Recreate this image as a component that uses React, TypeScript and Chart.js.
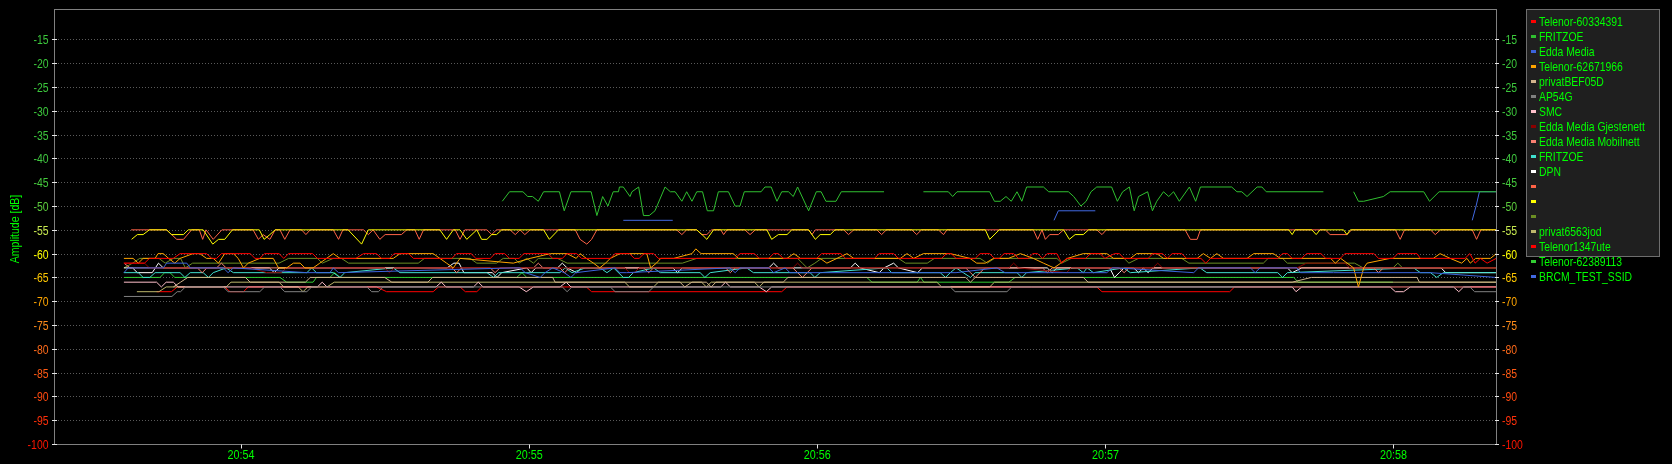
import React, { useEffect, useRef } from 'react';
import { Chart, registerables } from 'chart.js';

Chart.register(...registerables);

const FONT = '"Liberation Sans", Arial, "DejaVu Sans", sans-serif';

// ---- axes ----
const xTickSeconds = [60, 120, 180, 240, 300]; // seconds after 20:53:00
const xTickLabels = ['20:54', '20:55', '20:56', '20:57', '20:58'];
const yTickValues = [-15, -20, -25, -30, -35, -40, -45, -50, -55, -60, -65, -70, -75, -80, -85, -90, -95, -100];
const yTickColors = ['#3cc83c', '#3cc83c', '#3cc83c', '#3cc83c', '#3cc83c', '#40c840', '#44ca3c', '#5ccc3c', '#c8ea50', '#ffff00', '#ffc800', '#ffa500', '#ff8c1a', '#ff6a1a', '#ff5a14', '#ff4a10', '#ff300a', '#ff1400'];
const yTitle = 'Amplitude [dB]';

// ---- series (seconds after 20:53:00, dB) ----
type P = [number, number | null];

const telenor60334391: P[] = [[35.7,-62],[40,-62],[41,-61],[46,-61],[47.4,-60],[52.9,-60],[54,-61],[55,-61],[56,-60],[62,-60],[63,-61],[64,-61],[65,-60],[68,-60],[69,-61],[70,-60],[75,-60],[76,-61],[84,-61],[85.6,-60],[88.3,-60],[89.3,-61],[91,-61],[92,-60],[95,-60],[96,-61],[104,-61],[105,-60],[108,-60],[109,-61],[112,-61],[113,-60],[115,-60],[116,-61],[118,-61],[119,-60],[124,-60],[125,-61],[127,-61],[128,-60],[130,-60],[131,-61],[137,-61],[138,-60],[141,-60],[142,-61],[143,-61],[144,-60],[146,-60],[147,-61],[163,-61],[164,-60],[167,-60],[168,-61],[170,-61],[171,-60],[172,-60],[173,-61],[180,-61],[181,-60],[185,-60],[186,-61],[192,-61],[193,-60],[196,-60],[197,-61],[206,-61],[207,-60],[208,-60],[209,-61],[213,-61],[214,-60],[216,-60],[217,-61],[218,-61],[219,-60],[221,-60],[222,-61],[224,-61],[225,-60],[226,-60],[227,-61],[228,-60],[230,-60],[231,-62],[232,-61],[236,-61],[237,-60],[239,-60],[240,-61],[242,-60],[243,-60],[244,-61],[249,-61],[250,-60],[252,-60],[253,-61],[254,-60],[256,-60],[257,-61],[260,-61],[261,-62],[262,-61],[276,-61],[277,-60],[278,-60],[279,-61],[281,-61],[282,-60],[285,-60],[286,-61],[289,-61],[290,-60],[296,-60],[297,-61],[300,-61],[301,-60],[305,-60],[305.7,-61],[315,-61],[316,-60],[317.1,-62],[318.2,-61],[319.6,-62],[321.5,-61]];

const fritzoeTop: P[] = [[114.5,-49],[116,-47],[118.8,-47],[119.8,-48],[120.8,-48],[122,-49],[123.1,-47],[126.4,-47],[127.4,-51],[128.8,-47],[133,-47],[134.2,-52],[135.4,-48],[136.5,-50],[137.6,-47],[138.7,-47],[138.9,-46],[139.7,-46],[141.1,-48],[141.5,-47],[142.9,-46],[143.9,-52],[145.1,-52],[146.3,-51],[148.4,-46],[149.5,-47],[150.5,-47],[151.9,-49],[152.9,-47],[154,-49],[155,-47],[156.2,-47],[157.2,-51],[158.5,-51],[159.5,-47],[161.6,-47],[163,-50],[164,-50],[164.9,-47],[168.4,-47],[169.2,-46],[170.5,-46],[171.7,-49],[172.7,-47],[174.1,-47],[175.1,-48],[176,-46],[178.3,-51],[179.9,-47],[180.9,-47],[181.9,-49],[184,-49],[185.1,-47],[194,-47],[194.5,null],[202.2,-47],[207.4,-47],[208.3,-48],[209.2,-47],[216,-47],[217,-49],[218.2,-49],[219.4,-48],[220.5,-49],[221.7,-47],[222.7,-49],[223.7,-46],[227.2,-46],[228.3,-47],[232.4,-47],[233.5,-48],[235,-50],[236.1,-49],[237.1,-47],[238.3,-46],[241.4,-46],[242.6,-49],[243.7,-47],[245.1,-46],[246.1,-51],[247,-48],[248.9,-47],[249.9,-51],[250.8,-49],[252.2,-47],[253.3,-48],[254.3,-47],[255.5,-49],[257.6,-46],[258.9,-49],[259.9,-46],[266.4,-46],[267.5,-47],[268.5,-47],[269.6,-48],[271.7,-46],[272.7,-46],[273.6,-47],[285.5,-47],[286,null],[291.8,-47],[292.8,-49],[293.9,-49],[298,-48],[299.4,-47],[306.4,-47],[307.6,-49],[309.6,-47],[321.5,-47]];

const eddaMedia: P[] = [[35.7,-64],[36.6,-63],[43.9,-63],[44.6,-62],[48.8,-62],[49.5,-63],[56.4,-63],[57.4,-64],[58.5,-63],[73.8,-64],[78.6,-64],[79.3,-63],[80.4,-64],[116.8,-63],[118.2,-63],[119.3,-64],[122.4,-65],[123.4,-64],[125,-63],[127.4,-64],[128.8,-65],[129.8,-64],[138,-63],[139,-64],[140.4,-64],[161.9,-63],[163,-64],[164,-63],[170,-63],[171,-64],[173.4,-63],[174.4,-64],[204.3,-64],[209,-64],[217.5,-63],[219.2,-64],[240.4,-64],[241.5,-63],[242.5,-63],[258.5,-64],[259.5,-63],[270.3,-63],[271.3,-64],[272.3,-63],[280,-63],[280.7,-64],[287.6,-64],[307.8,-64],[321.5,-65]];

const telenor62671966: P[] = [[35.7,-61],[37.6,-61],[38.7,-62],[39.7,-61],[42.2,-61],[42.8,-60],[43.9,-60],[45,-61],[46.3,-62],[47.4,-61],[50.1,-60],[51.5,-60],[52.9,-61],[54.3,-61],[55.4,-62],[56.7,-60],[58.5,-60],[59.5,-61],[60.6,-63],[61.6,-62],[64,-61],[66.8,-61],[67.9,-63],[69.6,-63],[71,-62],[72.4,-62],[73.4,-63],[75.1,-63],[76.5,-62],[77.9,-61],[79.3,-60],[80.7,-61],[91.8,-61],[93.2,-60],[100.1,-60],[101.5,-61],[102.9,-62],[104.3,-63],[105.7,-61],[116.8,-62],[120.3,-61],[124.5,-60],[128,-60],[129.9,-61],[130.7,-60],[132,-61],[133.5,-62],[134.8,-63],[136,-62],[137,-61],[139,-60],[144.6,-60],[145.4,-63],[146.6,-62],[147.5,-61],[150.2,-61],[154,-60],[154.8,-59],[155.9,-60],[162.6,-60],[163.7,-61],[173.8,-61],[175.2,-60],[176.6,-61],[180.7,-61],[182.1,-62],[186.3,-60],[187.7,-61],[197.4,-61],[198.8,-60],[200.2,-61],[202.2,-60],[207.8,-60],[211.9,-61],[213.3,-62],[215.1,-62],[216.8,-61],[219.9,-61],[222.4,-60],[225.1,-61],[227.2,-62],[229.4,-63],[230.8,-62],[232.2,-61],[235.5,-60],[240.4,-60],[241.8,-61],[245.3,-61],[246.6,-60],[250.8,-60],[252.2,-61],[259.2,-61],[260.5,-60],[262,-61],[263.3,-60],[264.7,-61],[269.6,-61],[271,-60],[275.1,-60],[276.5,-61],[287,-61],[288,-62],[289.1,-61],[291.8,-63],[292.8,-67],[293.9,-63],[294.6,-62],[299.4,-61],[308.4,-61],[309.8,-60],[311.9,-61],[314.3,-62],[315.4,-61],[316.1,-62],[317.2,-61],[320.3,-61],[321.5,-60]];

const privatBEF05D: P[] = [[46,-67],[47.5,-66],[49,-65],[61,-65],[62,-66],[73.5,-66],[74.5,-65],[90,-65],[91.5,-66],[99,-66],[100,-65],[125,-65],[125.5,-66],[151.5,-66],[152.5,-67],[154,-66],[157,-66],[158,-67],[159,-66],[173,-66],[174,-65],[211,-65],[212,-66],[213,-65],[235.5,-65],[236.5,-66],[279,-66],[283,-65],[305,-65],[305.5,-66],[321.5,-66]];

const ap54g: P[] = [[35.7,-69],[45.7,-69],[46.8,-68],[47.5,-68],[48.5,-67],[56.4,-67],[57.4,-68],[64,-68],[65,-67],[68.2,-67],[69.2,-68],[73.8,-68],[74.8,-67],[86.3,-67],[87.3,-68],[88.7,-68],[89.7,-67],[127,-67],[128,-68],[129,-67],[137,-67],[138,-68],[145,-68],[146,-67],[207.8,-67],[208.8,-68],[219.6,-68],[220.6,-67],[316,-67],[317,-68],[321.5,-68]];

const smc: P[] = [[35.7,-66],[42.5,-66],[43.5,-67],[44.5,-66],[46,-66],[47,-67],[76,-67],[77,-66],[78,-67],[100.7,-67],[101.8,-66],[102.8,-67],[108.5,-67],[109.5,-66],[110.5,-67],[118,-67],[119.5,-68],[121,-67],[126.5,-67],[127.8,-66],[128.8,-67],[160,-67],[161,-66],[162,-67],[168,-67],[169.5,-68],[170.6,-67],[279,-67],[279.8,-68],[281,-67],[299.4,-67],[300.5,-68],[302.2,-68],[303.6,-67],[312.6,-67],[313.7,-68],[314.7,-67],[321.5,-67]];

const eddaGjestenett: P[] = [[35.7,-62],[40,-62],[41,-63],[62,-63],[65.5,-64],[68.5,-64],[69.5,-63],[90,-63],[91,-64],[92,-63],[140,-63],[141,-64],[142,-64],[143,-63],[175,-63],[176,-62],[177,-63],[220,-63],[221,-62],[222,-63],[232,-64],[233,-63],[250,-63],[251,-62],[252,-63],[280,-63],[282,-62],[290,-62],[291,-63],[321.5,-63]];

const eddaMobilnett: P[] = [[35.7,-62],[37,-63],[51,-63],[52,-64],[53,-63],[55,-63],[56,-62],[57,-63],[104,-63],[105,-64],[106,-63],[112,-63],[113,-64],[114,-63],[121,-63],[122,-62],[123,-63],[126.5,-63],[127.5,-64],[128.5,-63],[144,-63],[145,-64],[146,-63],[161,-63],[162,-64],[163,-63],[175,-63],[176,-64],[177,-65],[178,-64],[179,-63],[211,-63],[212,-64],[213,-65],[214,-64],[215,-63],[227,-63],[228,-64],[229,-63],[243,-63],[244,-64],[245,-63],[296,-63],[297,-64],[298,-63],[321.5,-63]];

const fritzoeCyan: P[] = [[35.7,-64],[38.7,-64],[39.7,-65],[41.1,-65],[42.2,-64],[47.4,-64],[48.4,-65],[49.5,-64],[52.2,-64],[53.3,-65],[54.3,-64],[57,-63],[58.5,-64],[73.8,-64],[74.8,-63],[75.8,-64],[79.3,-64],[80.7,-65],[81.7,-64],[91.8,-63],[93.2,-64],[111.3,-64],[112.7,-65],[113.7,-64],[126.5,-64],[127.6,-63],[129,-64],[131.8,-63],[134.9,-63],[136.3,-64],[137.7,-63],[139.7,-65],[140.8,-65],[141.8,-64],[146,-63],[147.4,-64],[155.7,-64],[156.7,-65],[157.8,-64],[165.4,-63],[166.8,-64],[178.6,-64],[179.6,-65],[180.7,-64],[194.6,-63],[195.6,-64],[205.7,-64],[206.8,-65],[207.8,-64],[209,-63],[210.5,-64],[212,-65],[213,-64],[221.7,-64],[222.7,-65],[223.7,-64],[234.2,-63],[235.5,-64],[236.3,-63],[237.6,-64],[243.9,-63],[245.3,-64],[259.8,-63],[261.2,-64],[276,-64],[277,-65],[278,-64],[304.3,-63],[305.7,-64],[307.8,-64],[309.1,-65],[310.5,-64],[321.5,-64]];

const dpn: P[] = [[35.7,-63],[37.5,-63],[38.5,-64],[41.6,-64],[42.9,-62],[43.9,-63],[66,-63],[67,-64],[68,-63],[103,-63],[104.4,-62],[105.5,-62],[106.5,-64],[112.4,-64],[113.4,-65],[114.4,-64],[119.6,-63],[120.5,-64],[121.5,-63],[126,-63],[127,-62],[128,-63],[130,-64],[131,-63],[150,-63],[151,-64],[152,-63],[170,-63],[171,-62],[172,-63],[187,-63],[188,-62],[189,-63],[193,-64],[194,-63],[196,-62],[197,-63],[201,-64],[202,-63],[228,-63],[229,-64],[230,-63],[241,-63],[242,-65],[243,-64],[244,-63],[246,-63],[247,-64],[248,-63],[249,-64],[250,-63],[278,-63],[279,-64],[281,-63],[310,-63],[311,-64],[321.5,-64]];

const tomato: P[] = [[37.2,-55],[44.6,-55],[46.7,-57],[48.1,-57],[49.8,-55],[51.4,-55],[52.1,-57],[52.8,-55],[54.3,-57],[56.1,-55],[62.6,-55],[63.7,-57],[64.7,-56],[66.1,-57],[67.2,-55],[68.2,-55],[69.2,-57],[70.3,-55],[72.7,-55],[73.6,-56],[74.5,-55],[79.3,-55],[80.4,-57],[81.3,-55],[85.6,-55],[86.6,-56],[87.6,-55],[89,-57],[90.1,-56],[93.5,-56],[94.6,-55],[96.3,-55],[97.2,-57],[98.1,-55],[104.7,-55],[105.7,-57],[106.7,-55],[111.3,-55],[112.3,-56],[113.3,-55],[116.1,-55],[117.2,-56],[118.2,-55],[119.2,-56],[120.3,-55],[129.7,-55],[130.7,-57],[132.1,-58],[133.1,-57],[134.2,-55],[150.8,-55],[151.9,-56],[152.9,-55],[155,-55],[156,-56],[157.1,-56],[158.1,-55],[160,-55],[160.6,-56],[161.3,-55],[165,-55],[166.1,-56],[167.2,-55],[178.3,-55],[179,-56],[179.7,-55],[185.6,-55],[186.6,-56],[187.7,-55],[192.5,-55],[193.5,-56],[194.5,-55],[199.8,-55],[200.8,-56],[201.8,-55],[205.3,-55],[206.4,-56],[207.1,-55],[225.1,-55],[226,-57],[226.9,-55],[227.6,-57],[228.5,-56],[230.3,-56],[231.4,-55],[238.3,-55],[239.4,-56],[240.3,-55],[256.7,-55],[257.8,-57],[259.2,-57],[259.9,-55],[285.9,-55],[286.9,-56],[290.4,-56],[291.4,-55],[300.5,-55],[301.5,-57],[302.4,-55],[307.8,-55],[308.8,-56],[309.9,-55],[316.5,-55],[317.4,-57],[318.3,-55],[321.5,-55]];

const yellow: P[] = [[37.3,-57],[38.5,-56],[39.7,-56],[41,-55],[44.6,-55],[45.6,-56],[48.1,-56],[49.1,-55],[52.2,-55],[54.2,-58],[55.4,-57],[56.7,-57],[58.3,-55],[63.9,-55],[64.9,-57],[66.1,-56],[67.2,-55],[82.4,-55],[85.2,-58],[86.6,-55],[101.5,-55],[102.9,-57],[104.3,-55],[105.7,-55],[107.1,-57],[109.2,-55],[110.2,-57],[111.3,-57],[112.3,-56],[113.3,-56],[114.4,-55],[123.1,-55],[124.3,-57],[126.2,-55],[155,-55],[156.1,-56],[157.1,-57],[158.5,-55],[169.6,-55],[170.6,-57],[172,-56],[173.8,-56],[174.8,-55],[178.3,-55],[179.7,-57],[180.7,-56],[182.8,-56],[183.8,-55],[215.1,-55],[216,-57],[218,-55],[231.4,-55],[232.6,-57],[233.8,-56],[235.5,-56],[236.6,-55],[278.3,-55],[279,-56],[279.6,-55],[283.1,-55],[284,-56],[284.8,-55],[289.7,-55],[290.4,-56],[291.1,-55],[321.5,-55]];

const olive: P[] = [[35.7,-63],[37.5,-62],[39,-61],[43,-61],[44.3,-62],[46,-61],[47.5,-61],[48.5,-63],[50,-62],[68,-62],[70,-61],[76,-61],[77,-62],[79.3,-61],[81,-61],[82.5,-62],[97,-62],[98.3,-61],[107.8,-61],[109.2,-62],[113.3,-62],[114.7,-61],[117,-61],[118,-62],[119.6,-61],[121,-62],[122,-61],[126,-61],[128,-62],[152,-62],[155,-61],[176,-61],[177,-62],[178,-63],[179.6,-62],[181,-61],[197,-61],[198.5,-62],[203,-62],[204.5,-61],[214,-61],[215.5,-62],[217,-61],[230,-61],[231,-62],[233,-61],[244,-61],[245,-62],[247,-61],[256,-61],[257.5,-62],[273,-62],[274,-61],[277,-61],[278,-62],[292,-62],[293.8,-63],[300,-63],[301,-62],[302,-63],[321.5,-63]];

const privat6563jod: P[] = [[38.4,-68],[43,-68],[44.5,-67],[57,-67],[58,-66],[68,-66],[69,-67],[72,-67],[73,-68],[74,-67],[78,-67],[79.5,-66],[140,-66],[141,-67],[146,-67],[147,-66],[156,-66],[157,-67],[158,-66],[167,-66],[168,-67],[169,-66],[205,-66],[206,-67],[216,-67],[217,-66],[321.5,-66]];

const telenor1347ute: P[] = [[42.5,-68],[45.6,-68],[46.8,-67],[56.7,-67],[57.8,-68],[60.6,-68],[61.6,-67],[88.3,-67],[90.4,-68],[100.1,-68],[101.2,-67],[105.7,-67],[106.8,-68],[109.2,-68],[110.2,-67],[132,-67],[133.1,-68],[172.7,-68],[173.8,-67],[238.3,-67],[239.4,-68],[266,-68],[267,-67],[321.5,-67]];

const telenor62389113: P[] = [[35.7,-65],[43.2,-65],[44.2,-64],[45.3,-64],[46.3,-65],[68.2,-65],[69.6,-66],[75.1,-66],[75.8,-65],[78.6,-65],[79.6,-64],[80.7,-65],[117.5,-65],[118.6,-64],[119.6,-65],[190.4,-65],[191.5,-66],[200.9,-66],[201.6,-65],[202.3,-66],[220,-66],[221.3,-65],[279.3,-65],[280.3,-66],[300,-66]];

const brcmTestSsid: P[] = [[139.7,-53],[150,-53],[150.5,null],[229.4,-53],[230.3,-51],[238,-51],[238.5,null],[316.5,-53],[317.3,-50],[318,-47],[321.5,-47]];

const seriesNames = ['Telenor-60334391', 'FRITZOE', 'Edda Media', 'Telenor-62671966', 'privatBEF05D', 'AP54G', 'SMC', 'Edda Media Gjestenett', 'Edda Media Mobilnett', 'FRITZOE', 'DPN', '', '', '', 'privat6563jod', 'Telenor1347ute', 'Telenor-62389113', 'BRCM_TEST_SSID'];
const seriesColors = ['#ff0000', '#30c030', '#3c64dc', '#ffa500', '#d2b48c', '#808080', '#ffc0cb', '#8b0000', '#fa8072', '#40e0d0', '#ffffff', '#ff6347', '#ffff00', '#6b8e23', '#bdb76b', '#ff0000', '#32cd32', '#4169e1'];
const seriesData: P[][] = [telenor60334391, fritzoeTop, eddaMedia, telenor62671966, privatBEF05D, ap54g, smc, eddaGjestenett, eddaMobilnett, fritzoeCyan, dpn, tomato, yellow, olive, privat6563jod, telenor1347ute, telenor62389113, brcmTestSsid];

function narrowText(ctx: CanvasRenderingContext2D, text: string, x: number, y: number, sx: number) {
  ctx.save();
  ctx.translate(x, y);
  ctx.scale(sx, 1);
  ctx.fillText(text, 0, 0);
  ctx.restore();
}

const frameGridPlugin = {
  id: 'frameGrid',
  beforeDatasetsDraw(chart: any) {
    const { ctx, chartArea } = chart;
    const y = chart.scales.y;
    ctx.save();
    ctx.strokeStyle = '#5a5a5a';
    ctx.lineWidth = 1;
    ctx.setLineDash([1, 2]);
    yTickValues.forEach((v) => {
      if (v === -100) return;
      const py = Math.round(y.getPixelForValue(v)) + 0.5;
      ctx.beginPath();
      ctx.moveTo(chartArea.left + 1, py);
      ctx.lineTo(chartArea.right, py);
      ctx.stroke();
    });
    ctx.restore();
  },
  afterDatasetsDraw(chart: any) {
    const { ctx, chartArea } = chart;
    const y = chart.scales.y;
    const x = chart.scales.x;
    const l = Math.round(chartArea.left) + 0.5;
    const r = Math.round(chartArea.right) + 0.5;
    const t = Math.round(chartArea.top) + 0.5;
    const b = Math.round(chartArea.bottom) + 0.5;
    ctx.save();
    ctx.strokeStyle = '#808080';
    ctx.lineWidth = 1;
    ctx.strokeRect(l, t, r - l, b - t);
    ctx.strokeStyle = '#e6e6e6';
    yTickValues.forEach((v) => {
      const py = Math.round(y.getPixelForValue(v)) + 0.5;
      ctx.beginPath();
      ctx.moveTo(l - 2.5, py);
      ctx.lineTo(l + 2.5, py);
      ctx.moveTo(r - 1.5, py);
      ctx.lineTo(r + 2.5, py);
      ctx.stroke();
    });
    xTickSeconds.forEach((s) => {
      const px = Math.round(x.getPixelForValue(s)) + 0.5;
      ctx.beginPath();
      ctx.moveTo(px, b);
      ctx.lineTo(px, b + 4);
      ctx.stroke();
    });

    // tick labels
    ctx.font = '12px ' + FONT;
    ctx.textBaseline = 'alphabetic';
    yTickValues.forEach((v, i) => {
      const py = Math.round(y.getPixelForValue(v)) + 4.5;
      ctx.fillStyle = yTickColors[i];
      ctx.textAlign = 'right';
      narrowText(ctx, String(v), 48.5, py, 0.87);
      ctx.textAlign = 'left';
      narrowText(ctx, String(v), 1502, py, 0.87);
    });
    ctx.font = '13px ' + FONT;
    ctx.fillStyle = '#00ff00';
    ctx.textAlign = 'center';
    xTickSeconds.forEach((s, i) => {
      const px = x.getPixelForValue(s) + 0.5;
      narrowText(ctx, xTickLabels[i], px, 459, 0.83);
    });

    // axis title
    ctx.save();
    ctx.translate(15, 229);
    ctx.rotate(-Math.PI / 2);
    ctx.scale(0.81, 1);
    ctx.textAlign = 'center';
    ctx.textBaseline = 'middle';
    ctx.fillStyle = '#00ff00';
    ctx.fillText(yTitle, 0, 0);
    ctx.restore();
    ctx.restore();
  },
};

const legendPlugin = {
  id: 'boxLegend',
  afterDraw(chart: any) {
    const { ctx } = chart;
    ctx.save();
    ctx.fillStyle = '#1f1f1f';
    ctx.fillRect(1526, 9, 134, 248);
    ctx.strokeStyle = '#6e6e6e';
    ctx.lineWidth = 1;
    ctx.strokeRect(1526.5, 9.5, 133, 247);
    ctx.font = '13px ' + FONT;
    ctx.textBaseline = 'alphabetic';
    ctx.textAlign = 'left';
    seriesNames.forEach((name, i) => {
      const top = 20 + i * 15;
      ctx.fillStyle = seriesColors[i];
      ctx.fillRect(1531, top, 5, 3);
      ctx.fillStyle = '#00ff00';
      narrowText(ctx, name, 1539, top + 6, 0.8);
    });
    ctx.restore();
  },
};

export default function App() {
  const ref = useRef<HTMLCanvasElement>(null);
  useEffect(() => {
    document.body.style.margin = '0';
    document.body.style.background = '#000';
    const yTicksBuild = (axis: any) => {
      axis.ticks = yTickValues.map((v) => ({ value: v }));
    };
    const chart = new Chart(ref.current as HTMLCanvasElement, {
      type: 'line',
      data: {
        datasets: seriesData.map((pts, i) => ({
          label: seriesNames[i] || ' ',
          data: pts.map(([x, y]) => ({ x, y })),
          borderColor: seriesColors[i],
          backgroundColor: seriesColors[i],
          borderWidth: 1,
          pointRadius: 0,
          fill: false,
          tension: 0,
          spanGaps: false,
          order: i === 12 ? -2 : i === 1 ? -1 : i,
        })),
      },
      options: {
        animation: false,
        responsive: false,
        devicePixelRatio: 1,
        layout: { padding: { top: 9, left: 0, right: 0, bottom: 0 } },
        plugins: { legend: { display: false }, tooltip: { enabled: false } },
        scales: {
          x: {
            type: 'linear',
            min: 21.14,
            max: 321.45,
            afterBuildTicks: (axis: any) => {
              axis.ticks = xTickSeconds.map((v) => ({ value: v }));
            },
            afterFit: (s: any) => {
              s.height = 20;
            },
            ticks: { display: false },
            grid: { display: false, drawTicks: false },
            border: { display: false },
          },
          y: {
            position: 'left',
            min: -100,
            max: -8.6,
            afterBuildTicks: yTicksBuild,
            afterFit: (s: any) => {
              s.width = 54;
            },
            ticks: { display: false },
            grid: { display: false, drawTicks: false },
            border: { display: false },
          },
          y2: {
            position: 'right',
            min: -100,
            max: -8.6,
            afterBuildTicks: yTicksBuild,
            afterFit: (s: any) => {
              s.width = 176;
            },
            ticks: { display: false },
            grid: { display: false, drawTicks: false },
            border: { display: false },
          },
        },
      },
      plugins: [frameGridPlugin, legendPlugin],
    } as any);
    return () => chart.destroy();
  }, []);
  return (
    <div style={{ width: 1672, height: 464, background: '#000' }}>
      <canvas ref={ref} width={1672} height={464} style={{ display: 'block' }} />
    </div>
  );
}
